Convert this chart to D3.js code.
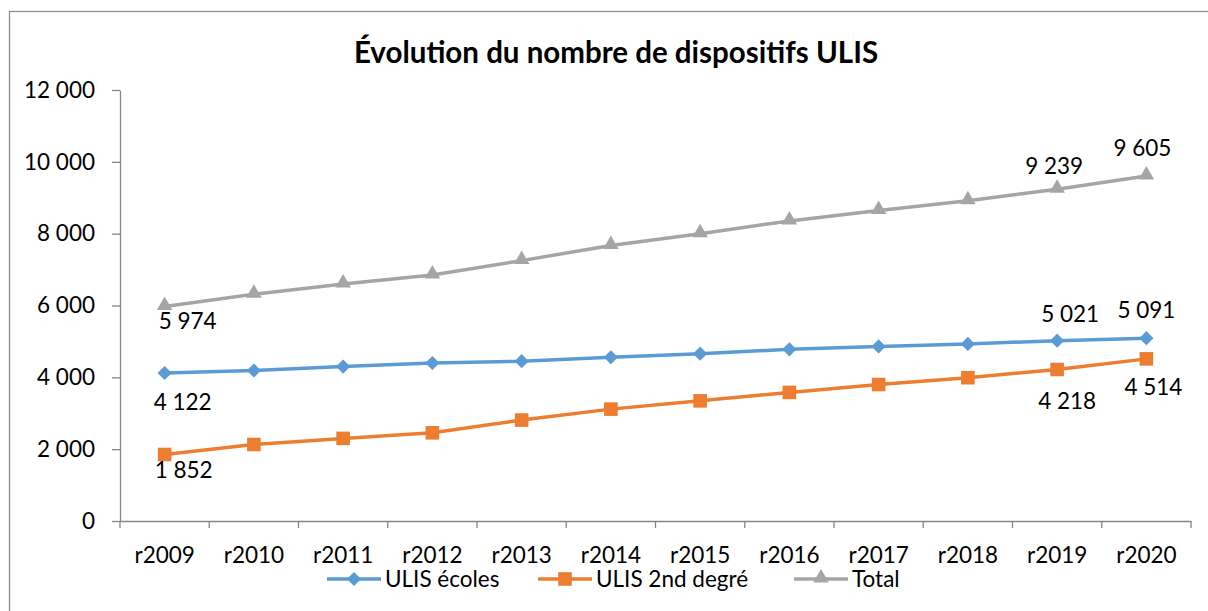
<!DOCTYPE html>
<html>
<head>
<meta charset="utf-8">
<script src="https://cdn.jsdelivr.net/npm/d3@7"></script>
<style>
  body { margin: 0; background: #fff; }
  text { font-family: Lato, "Open Sans", sans-serif; fill: #000; }
</style>
</head>
<body>
<svg id="chart" width="1208" height="611"></svg>
<script>
// data
const categories = ["r2009","r2010","r2011","r2012","r2013","r2014","r2015","r2016","r2017","r2018","r2019","r2020"];
const ulisEcoles = [4122, 4190, 4300, 4400, 4450, 4560, 4660, 4780, 4860, 4930, 5021, 5091];
const ulis2nd    = [1852, 2130, 2300, 2455, 2810, 3115, 3345, 3580, 3800, 3990, 4218, 4514];
const total      = [5974, 6315, 6600, 6852, 7250, 7672, 7998, 8355, 8648, 8915, 9239, 9605];
const seriesNames = ["ULIS écoles", "ULIS 2nd degré", "Total"];
const yTicks = [0, 2000, 4000, 6000, 8000, 10000, 12000];
const labelled = [0, 10, 11]; // points with a data label

const svg = d3.select("#chart");
const plotL = 120, plotR = 1191, plotT = 90, plotB = 521;

const fr = d3.formatLocale({decimal: ",", thousands: " ", grouping: [3], currency: ["", " €"]});
const fmt = fr.format(",d");

// chart frame
svg.append("rect")
  .attr("x", 9.5).attr("y", 11.5)
  .attr("width", 1300).attr("height", 700)
  .attr("fill", "none").attr("stroke", "#8d8d8d").attr("stroke-width", 1.3);

svg.append("text")
  .attr("x", 616).attr("y", 63)
  .attr("text-anchor", "middle")
  .attr("font-size", "29.5px").attr("font-weight", "bold")
  .text("Évolution du nombre de dispositifs ULIS");

const x = d3.scaleBand().domain(categories).range([plotL, plotR]);
const y = d3.scaleLinear().domain([0, 12000]).range([plotB, plotT]);

// y axis
const yAxis = svg.append("g")
  .attr("transform", "translate(" + plotL + ",0)")
  .call(d3.axisLeft(y).tickValues(yTicks).tickSize(8).tickSizeOuter(0).tickPadding(17).tickFormat(fmt));
yAxis.selectAll("text").attr("font-size", "22.5px").style("font-family", "Lato, sans-serif");

// x axis, ticks on band edges
const xAxis = svg.append("g")
  .attr("transform", "translate(0," + plotB + ")")
  .call(d3.axisBottom(x).tickSize(0).tickSizeOuter(0).tickPadding(26));
xAxis.selectAll("text").attr("font-size", "22.5px").style("font-family", "Lato, sans-serif");
xAxis.selectAll(".edge")
  .data(categories.concat(["end"]))
  .enter().append("line")
  .attr("class", "edge")
  .attr("x1", (d, i) => i < categories.length ? x(d) : x.range()[1])
  .attr("x2", (d, i) => i < categories.length ? x(d) : x.range()[1])
  .attr("y1", 0).attr("y2", 7);

svg.selectAll(".domain, .tick line, .edge")
  .attr("stroke", "#868686").attr("stroke-width", 1.3);

const series = [
  {name: seriesNames[0], values: ulisEcoles, color: "#5b9bd5", shape: "diamond",
   offs: [[18, 37], [13, -19], [0, -20]]},
  {name: seriesNames[1], values: ulis2nd, color: "#ed7d31", shape: "square",
   offs: [[19, 24], [10, 39], [7, 36]]},
  {name: seriesNames[2], values: total, color: "#a5a5a5", shape: "triangle",
   offs: [[23, 23], [-3, -15], [-4, -20]]}
];

function marker(sel, shape, color) {
  if (shape === "diamond") {
    sel.append("path").attr("d", d3.symbol(d3.symbolSquare, 100)()).attr("transform", "rotate(45)").attr("fill", color);
  } else if (shape === "square") {
    sel.append("path").attr("d", d3.symbol(d3.symbolSquare, 185)()).attr("fill", color);
  } else {
    sel.append("path").attr("d", d3.symbol(d3.symbolTriangle, 105)()).attr("transform", "translate(0,-1)").attr("fill", color);
  }
}

const line = d3.line()
  .x((d, i) => x(categories[i]) + x.bandwidth() / 2)
  .y(d => y(d));

series.forEach(s => {
  svg.append("path")
    .datum(s.values)
    .attr("d", line)
    .attr("fill", "none")
    .attr("stroke", s.color)
    .attr("stroke-width", 3.5)
    .attr("stroke-linejoin", "round");

  svg.selectAll(null)
    .data(s.values)
    .enter().append("g")
    .attr("transform", (d, i) => "translate(" + (x(categories[i]) + x.bandwidth() / 2) + "," + y(d) + ")")
    .each(function() { marker(d3.select(this), s.shape, s.color); });

  labelled.forEach((idx, k) => {
    svg.append("text")
      .attr("x", x(categories[idx]) + x.bandwidth() / 2 + s.offs[k][0])
      .attr("y", y(s.values[idx]) + s.offs[k][1])
      .attr("text-anchor", "middle")
      .attr("font-size", "22.5px")
      .text(fmt(s.values[idx]));
  });
});

// legend
const legendX = [327, 538, 794];
const legend = svg.append("g");
series.forEach((s, i) => {
  const g = legend.append("g").attr("transform", "translate(" + legendX[i] + ",579)");
  g.append("line").attr("x1", 0).attr("x2", 54).attr("stroke", s.color).attr("stroke-width", 3.5);
  const m = g.append("g").attr("transform", "translate(27,0)");
  marker(m, s.shape, s.color);
  g.append("text").attr("x", 58).attr("y", 8).attr("font-size", "22.5px").text(s.name);
});
</script>
</body>
</html>
